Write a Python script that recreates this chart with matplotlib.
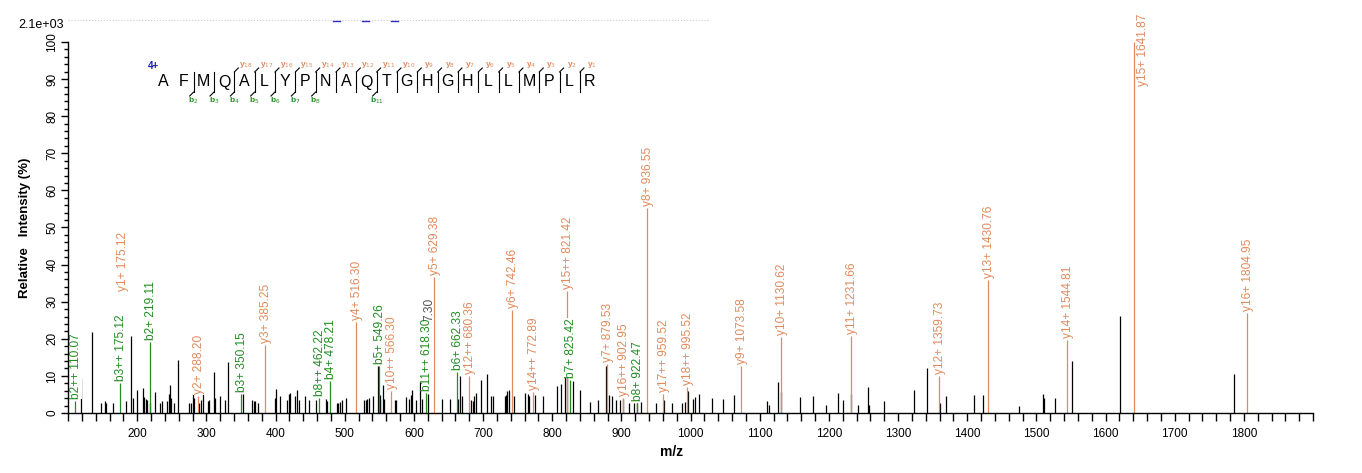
import matplotlib
matplotlib.use('Agg')
import matplotlib.pyplot as plt
from matplotlib.ticker import MultipleLocator
from matplotlib.lines import Line2D
import matplotlib.transforms as mtransforms

plt.rcParams['font.family'] = ['Liberation Sans', 'DejaVu Sans']

# ---------------- data ----------------
# unlabeled peaks (m/z, relative intensity %)
peak_mz = [118.9, 134.9, 147.9, 153.8, 155.5, 165.6, 183.9, 190.4, 193.9, 199.2,
           208.6, 210.4, 212.2, 214.6, 218.1, 225.2, 233.5, 235.8, 242.9, 245.8,
           247.6, 248.8, 252.9, 259.4, 274.8, 277.7, 280.7, 282.4, 288.9, 291.9,
           294.8, 301.9, 304.3, 311.4, 313.1, 320.2, 327.3, 330.8, 353.0, 365.7,
           368.6, 370.4, 374.5, 399.3, 401.1, 407.0, 417.0, 418.8, 421.2, 428.2,
           430.6, 433.5, 443.0, 448.3, 458.3, 473.1, 474.9, 488.4, 490.8, 493.2,
           495.5, 501.4, 527.4, 530.4, 532.7, 535.7, 540.4, 548.7, 550.4, 551.6,
           555.1, 557.5, 572.3, 574.6, 588.8, 592.3, 595.3, 597.7, 603.0, 609.5,
           612.4, 620.5, 640.2, 652.0, 663.8, 666.7, 669.7, 683.3, 685.6, 687.4,
           690.3, 697.4, 706.3, 711.6, 715.1, 731.6, 733.4, 735.2, 737.0, 745.2,
           761.2, 764.7, 767.1, 775.3, 787.1, 807.2, 813.1, 819.0, 820.8, 830.8,
           840.9, 854.4, 866.2, 878.0, 882.8, 886.9, 892.2, 898.7, 902.8, 911.6,
           917.6, 922.3, 928.8, 950.1, 961.3, 973.7, 987.9, 991.5, 997.0, 1002.9,
           1007.0, 1013.0, 1030.6, 1046.5, 1062.4, 1110.0, 1114.0, 1126.9, 1131.3, 1159.0,
           1176.7, 1195.6, 1213.8, 1220.9, 1232.0, 1241.5, 1256.8, 1258.0, 1280.4, 1323.4,
           1342.3, 1361.0, 1370.0, 1410.0, 1423.0, 1475.5, 1509.7, 1510.9, 1526.8, 1552.0,
           1620.4, 1786.0]
peak_int = [9.3, 21.7, 2.7, 3.3, 2.7, 2.7, 3.3, 20.8, 4.0, 6.2,
            6.8, 4.3, 3.9, 3.6, 2.7, 5.7, 2.7, 3.3, 3.3, 5.1,
            7.5, 4.0, 2.7, 14.3, 2.7, 2.7, 5.1, 4.0, 2.7, 3.6,
            5.1, 3.1, 3.6, 11.0, 4.0, 4.5, 3.6, 13.7, 5.2, 3.6,
            3.3, 3.3, 2.7, 4.0, 6.6, 4.5, 3.6, 5.1, 5.4, 4.5,
            6.3, 3.6, 4.5, 3.6, 3.6, 3.9, 3.3, 2.7, 2.7, 2.9,
            3.6, 4.0, 3.6, 3.6, 3.9, 4.0, 4.5, 12.6, 3.6, 4.9,
            7.6, 3.9, 3.6, 3.6, 4.3, 3.9, 4.9, 6.3, 3.6, 8.4,
            3.9, 5.0, 3.9, 3.9, 3.9, 10.1, 4.5, 3.6, 3.3, 4.5,
            5.4, 9.0, 10.6, 4.5, 4.5, 4.5, 4.9, 5.8, 6.3, 4.5,
            5.4, 5.1, 4.5, 4.9, 4.5, 7.4, 7.8, 9.7, 9.3, 8.5,
            6.3, 2.9, 3.6, 12.8, 4.9, 4.5, 3.6, 3.6, 3.8, 2.7,
            2.7, 2.7, 2.9, 2.7, 3.6, 2.7, 2.7, 2.9, 5.8, 3.8,
            4.3, 5.1, 4.0, 3.8, 4.9, 3.3, 2.2, 8.4, 5.75, 4.4,
            4.7, 2.2, 5.5, 3.6, 5.2, 2.2, 7.1, 2.2, 3.3, 6.3,
            12.0, 2.7, 4.7, 4.9, 4.9, 2.0, 5.1, 4.0, 4.0, 14.1,
            26.1, 10.6]

# annotated fragment ions
ion_names = ['b2++', 'b3++', 'b2+', 'y2+', 'b3+', 'y3+', 'b8++', 'b4+', 'y4+', 'b5+',
             'y10++', 'b11++', 'y5+', 'b6+', 'y12++', 'y6+', 'y14++', 'y15++', 'b7+', 'y7+',
             'y16++', 'b8+', 'y8+', 'y17++', 'y18++', 'y9+', 'y10+', 'y11+', 'y12+', 'y13+',
             'y14+', 'y15+', 'y16+']
ion_mz = [110.07, 175.12, 219.11, 288.20, 350.15, 385.25, 462.22, 478.21, 516.30, 549.26,
          566.30, 618.30, 629.38, 662.33, 680.36, 742.46, 772.89, 821.42, 825.42, 879.53,
          902.95, 922.47, 936.55, 959.52, 995.52, 1073.58, 1130.62, 1231.66, 1359.73, 1430.76,
          1544.81, 1641.87, 1804.95]
ion_int = [3.3, 8.2, 19.1, 4.5, 5.2, 18.2, 4.1, 8.7, 24.5, 12.8,
           5.8, 5.5, 36.7, 11.1, 10.1, 27.8, 5.7, 32.8, 9.0, 13.1,
           4.0, 2.7, 55.3, 5.1, 7.0, 12.8, 20.5, 20.8, 9.9, 35.8,
           19.8, 100.0, 27.0]

# extra label sharing the b3++ peak
extra_name = 'y1+'
extra_mz = 175.12

sequence = list('AFMQALYPNAQTGHGHLLMPLR')
b_ions = [2, 3, 4, 5, 6, 7, 8, 11]
y_ions = list(range(1, 19))
charge = '4+'

x_ticks = list(range(200, 1801, 100))
y_ticks = list(range(0, 101, 10))

# ---------------- style ----------------
Y_COL = '#E08A5E'
B_COL = '#228B22'
K_COL = '#000000'
W, H = 1362, 473
LFS = 8.6

fig = plt.figure(figsize=(W / 100, H / 100), dpi=100)
ax = fig.add_axes([68 / W, 60 / H, (1313 - 68) / W, (413 - 42) / H])
ax.set_xlim(100, 1900)
ax.set_ylim(0, 100)

ax.vlines(peak_mz, 0, peak_int, colors=K_COL, lw=0.9)
for name, mz, it in zip(ion_names, ion_mz, ion_int):
    col = Y_COL if name.startswith('y') else B_COL
    ax.vlines([mz], 0, [it], colors=col, lw=0.9)

def px_offset(dx, dy):
    return mtransforms.offset_copy(ax.transData, fig=fig, x=dx, y=dy, units='dots')

for name, mz, it in zip(ion_names, ion_mz, ion_int):
    col = Y_COL if name.startswith('y') else B_COL
    label = f'{name} {mz:.2f}'
    if name == 'y15+':
        fig.text((1138 + 5) / W, 1 - 14 / H, label, rotation=90, ha='center', va='top',
                 fontsize=LFS, color=col)
        continue
    ax.text(mz, it, label, rotation=90, ha='center', va='bottom', fontsize=LFS,
            color=col, transform=px_offset(1, 2),
            bbox=dict(facecolor='white', edgecolor='none', pad=0.3))

# stacked y1+ label above b3++ label
ax.text(extra_mz, 8.2, f'{extra_name} {extra_mz:.2f}', rotation=90, ha='center', va='bottom',
        fontsize=LFS, color=Y_COL, transform=px_offset(3, 92))
# partly hidden grey label behind b11++
ax.text(618.30, 5.5, '7.30', rotation=90, ha='center', va='bottom', fontsize=LFS,
        color='#555555', transform=px_offset(3, 72))

# axes styling
for s in ['top', 'right']:
    ax.spines[s].set_visible(False)
ax.spines['left'].set_linewidth(1.0)
ax.spines['bottom'].set_linewidth(1.0)
ax.xaxis.set_major_locator(plt.FixedLocator(x_ticks))
ax.xaxis.set_minor_locator(MultipleLocator(20))
ax.yaxis.set_major_locator(plt.FixedLocator(y_ticks))
ax.yaxis.set_minor_locator(MultipleLocator(2))
ax.tick_params(axis='x', which='both', direction='out', length=6, width=1, labelsize=8.5, pad=5)
ax.tick_params(axis='y', which='major', direction='out', length=5, width=1, labelsize=8.5, pad=2)
ax.tick_params(axis='y', which='minor', direction='out', length=3, width=1)
for t in ax.get_yticklabels():
    t.set_rotation(90)
    t.set_va('center')
fig.text(672 / W, 1 - 452 / H, 'm/z', fontsize=10, fontweight='bold', ha='center', va='center')
fig.text(25 / W, 1 - 228 / H, 'Relative   Intensity (%)', fontsize=9.5, fontweight='bold',
         ha='center', va='center', rotation=90)

# scale factor text and dotted top line
fig.text(18 / W, 1 - 25 / H, '2.1e+03', fontsize=9, va='center', ha='left')
fig.add_artist(Line2D([68 / W, 710 / W], [1 - 20 / H, 1 - 20 / H], color='#cccccc',
                      lw=0.8, ls=':'))
for x0 in [333, 362, 391]:
    fig.add_artist(Line2D([x0 / W, (x0 + 7) / W], [1 - 21 / H, 1 - 21 / H], color='#3030c0', lw=1))

# peptide sequence annotation
x0, dx = 163, 20.33
yl = 82
fig.text(153 / W, 1 - 66 / H, charge, fontsize=7, color='#1a1ab0', fontweight='bold',
         ha='center', va='center')
for i, aa in enumerate(sequence):
    fig.text((x0 + i * dx) / W, 1 - yl / H, aa, fontsize=11.5, ha='center', va='center')
n = len(sequence)
for i in range(2, n):
    sx = x0 + i * dx - 10
    top, bot = yl - 10, yl + 10
    fig.add_artist(Line2D([sx / W, sx / W], [1 - top / H, 1 - bot / H], color='k', lw=0.8))
    yi = n - i
    if yi in y_ions:
        fig.add_artist(Line2D([sx / W, (sx + 4) / W], [1 - top / H, 1 - (top - 4) / H],
                              color='k', lw=0.8))
        fig.text((sx + 12) / W, 1 - (top - 7) / H, f'y$_{{{yi}}}$', fontsize=6,
                 color=Y_COL, ha='center', va='center', fontweight='bold')
    if i in b_ions:
        fig.add_artist(Line2D([sx / W, (sx - 4) / W], [1 - bot / H, 1 - (bot + 4) / H],
                              color='k', lw=0.8))
        fig.text((sx) / W, 1 - (bot + 9) / H, f'b$_{{{i}}}$', fontsize=6,
                 color=B_COL, ha='center', va='center', fontweight='bold')

fig.savefig('out.png', dpi=100)
